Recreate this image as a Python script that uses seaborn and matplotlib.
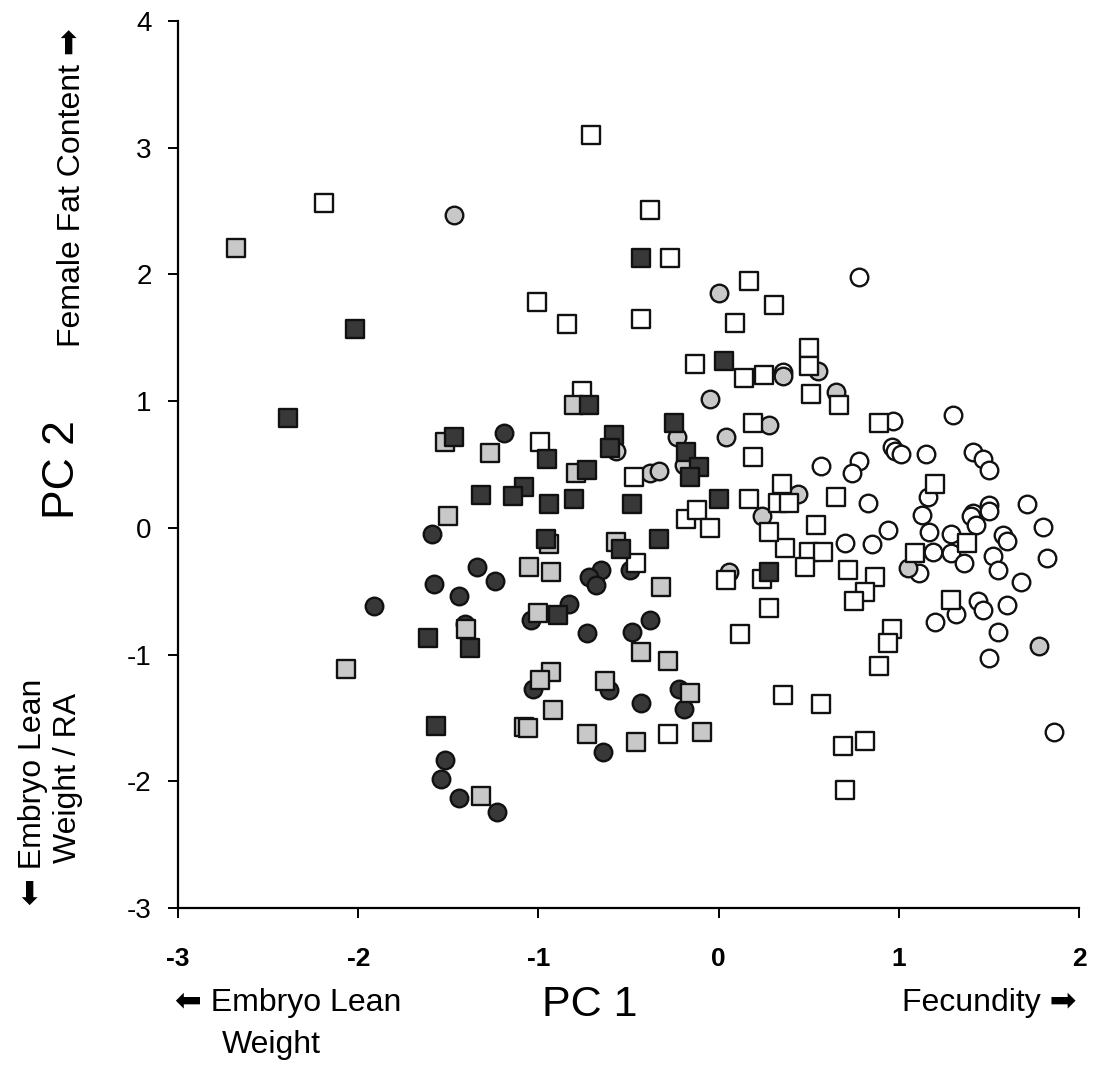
import matplotlib
matplotlib.use("Agg")
import matplotlib.pyplot as plt
import seaborn as sns
import pandas as pd
from matplotlib import font_manager

# ---- data (PC1, PC2) per group ----
white_sq_x = [-0.71, -2.19, -0.38, -0.27, 0.17, -1.01, 0.31, -0.84, -0.43, 0.09, -0.13, 0.14, 0.25, 0.50, 0.50,
              0.51, 0.67, -0.76, 0.89, 0.19, -0.99, 0.19, -0.47, 1.20, 0.35, -0.18, -0.12, -0.05, 0.17, 0.65,
              0.54, 0.37, 0.50, 0.58, 0.48, 0.72, 0.87, 0.81, 0.75, 1.09, 1.38, 1.29, 0.96, 0.94, 0.89,
              0.36, 0.57, 0.81, 0.69, 0.70, -0.46, 0.04, 0.24, 0.28, 0.12, -0.28, 0.33, 0.39, 0.28]
white_sq_y = [3.10, 2.56, 2.51, 2.13, 1.95, 1.78, 1.76, 1.61, 1.65, 1.62, 1.29, 1.18, 1.21, 1.42, 1.28,
              1.06, 0.97, 1.08, 0.83, 0.83, 0.68, 0.56, 0.40, 0.35, 0.35, 0.07, 0.14, 0.00, 0.23, 0.24,
              0.02, -0.16, -0.19, -0.19, -0.31, -0.33, -0.39, -0.51, -0.58, -0.20, -0.12, -0.57, -0.80, -0.91, -1.09,
              -1.32, -1.39, -1.68, -1.72, -2.07, -0.28, -0.41, -0.40, -0.63, -0.84, -1.63, 0.20, 0.20, -0.03]

light_sq_x = [-2.68, -0.80, -1.52, -1.27, -0.79, -1.50, -0.94, -0.57, -1.05, -0.93, -0.32, -1.00, -1.40, -2.07,
              -0.43, -0.28, -0.93, -0.99, -0.63, -0.16, -0.92, -1.08, -1.06, -0.73, -0.46, -0.09, -1.32]
light_sq_y = [2.21, 0.97, 0.68, 0.59, 0.43, 0.09, -0.13, -0.11, -0.31, -0.35, -0.47, -0.67, -0.80, -1.11,
              -0.98, -1.05, -1.14, -1.20, -1.21, -1.30, -1.44, -1.57, -1.58, -1.63, -1.69, -1.61, -2.12]

dark_sq_x = [-0.43, -2.02, -2.39, 0.03, -1.47, -0.72, -0.25, -0.95, -0.58, -0.60, -0.18, -0.11, -0.16, -0.73,
             -1.08, -1.14, -1.32, -0.94, -0.80, -0.48, 0.00, -0.96, -0.54, -0.33, 0.28, -0.89, -1.61, -1.38, -1.57]
dark_sq_y = [2.13, 1.57, 0.87, 1.32, 0.72, 0.97, 0.83, 0.54, 0.73, 0.63, 0.60, 0.48, 0.40, 0.46,
             0.32, 0.25, 0.26, 0.19, 0.23, 0.19, 0.23, -0.09, -0.17, -0.09, -0.35, -0.69, -0.87, -0.95, -1.56]

dark_ci_x = [-1.19, -1.59, -1.34, -1.24, -1.58, -1.44, -1.91, -1.41, -0.49, -0.65, -0.72, -0.68, -0.83, -1.04,
             -0.73, -0.48, -0.38, -1.03, -0.61, -0.43, -0.22, -0.19, -0.64, -1.52, -1.54, -1.44, -1.23]
dark_ci_y = [0.75, -0.05, -0.31, -0.42, -0.44, -0.54, -0.62, -0.76, -0.33, -0.33, -0.39, -0.45, -0.60, -0.73,
             -0.83, -0.82, -0.73, -1.27, -1.28, -1.38, -1.27, -1.43, -1.77, -1.83, -1.98, -2.13, -2.24]

light_ci_x = [-1.47, 0.00, -0.05, -0.23, 0.04, 0.28, -0.57, -0.19, -0.38, -0.33, 0.24, 0.06, 0.36, 0.55, 0.65,
              0.44, 1.05, 1.78]
light_ci_y = [2.47, 1.85, 1.02, 0.72, 0.72, 0.81, 0.61, 0.50, 0.43, 0.45, 0.09, -0.35, 1.20, 1.24, 1.07,
              0.27, -0.32, -0.93]

white_ci_x = [0.78, 0.36, 0.97, 1.30, 0.96, 0.98, 1.01, 1.15, 1.41, 1.47, 1.50, 0.57, 0.78, 0.74, 0.83, 1.16,
              1.71, 1.13, 1.41, 1.40, 1.43, 1.50, 1.50, 1.17, 1.29, 0.94, 1.80, 1.58, 1.60, 0.70, 0.85, 1.19,
              1.29, 1.52, 1.82, 1.36, 1.55, 1.11, 1.68, 1.44, 1.47, 1.60, 1.32, 1.20, 1.55, 1.50, 1.86]
white_ci_y = [1.98, 1.23, 0.84, 0.89, 0.64, 0.61, 0.58, 0.58, 0.60, 0.54, 0.46, 0.49, 0.53, 0.43, 0.20, 0.24,
              0.19, 0.10, 0.12, 0.09, 0.02, 0.18, 0.13, -0.03, -0.05, -0.02, 0.01, -0.06, -0.10, -0.12, -0.13, -0.19,
              -0.20, -0.22, -0.24, -0.28, -0.33, -0.36, -0.43, -0.58, -0.65, -0.61, -0.68, -0.74, -0.82, -1.03, -1.61]

x_ticks = [-3, -2, -1, 0, 1, 2]
y_ticks = [-3, -2, -1, 0, 1, 2, 3, 4]

# draw order: circles first, then squares
groups = [
    ("white_ci", white_ci_x, white_ci_y, "o", "#ffffff"),
    ("light_ci", light_ci_x, light_ci_y, "o", "#c8c8c8"),
    ("dark_ci", dark_ci_x, dark_ci_y, "o", "#383838"),
    ("white_sq", white_sq_x, white_sq_y, "s", "#ffffff"),
    ("light_sq", light_sq_x, light_sq_y, "s", "#c8c8c8"),
    ("dark_sq", dark_sq_x, dark_sq_y, "s", "#383838"),
]

sns.set_theme(style="white")
plt.rcParams["font.family"] = ["Liberation Sans", "DejaVu Sans"]

names = {f.name for f in font_manager.fontManager.ttflist}
narrow = "Liberation Sans Narrow" if "Liberation Sans Narrow" in names else "Liberation Sans"

W, H = 1094, 1068
fig = plt.figure(figsize=(W / 100, H / 100), dpi=100)
ax = fig.add_axes([178 / W, 1 - 908 / H, (1079 - 178) / W, (908 - 21) / H])

for name, xs, ys, mk, col in groups:
    df = pd.DataFrame({"PC1": xs, "PC2": ys})
    sns.scatterplot(data=df, x="PC1", y="PC2", ax=ax, marker=mk, color=col,
                    s=160 if mk == "o" else 150, edgecolor="#111111", linewidth=1.7, zorder=3)

ax.set_xlim(-3, 2)
ax.set_ylim(-3, 4)
ax.set_xlabel("")
ax.set_ylabel("")
for s in ["top", "right"]:
    ax.spines[s].set_visible(False)
for s in ["left", "bottom"]:
    ax.spines[s].set_color("black")
    ax.spines[s].set_linewidth(1.6)
ax.tick_params(axis="both", which="major", direction="out", length=7, width=1.4, color="black",
               bottom=True, left=True, labelcolor="black")
ax.tick_params(axis="x", pad=21)
ax.tick_params(axis="y", pad=12)
ax.set_xticks(x_ticks)
ax.set_yticks(y_ticks)
ax.set_xticklabels([str(t) for t in x_ticks], fontsize=19, fontweight="bold", family=narrow, color="black")
ax.set_yticklabels([str(t) for t in y_ticks], fontsize=20, color="black")
for c in ax.collections:
    c.set_clip_on(False)

fam = ["Liberation Sans", "DejaVu Sans"]
def ft(x, y, s, **kw):
    fig.text(x / W, 1 - y / H, s, family=fam, color="black", **kw)

# left side labels
ft(72, 188, "Female Fat Content \u27a1", fontsize=23, rotation=90, ha="center", va="center")
ft(62, 470, "PC 2", fontsize=32, rotation=90, ha="center", va="center")
ft(33, 905, "\u2b05 Embryo Lean", fontsize=23, rotation=90, ha="center", va="bottom")
ft(68, 863, "Weight / RA", fontsize=23, rotation=90, ha="center", va="bottom")

# bottom labels
ft(175, 1003, "\u2b05 Embryo Lean", fontsize=23, ha="left", va="center")
ft(222, 1045, "Weight", fontsize=23, ha="left", va="center")
ft(590, 1005, "PC 1", fontsize=31, ha="center", va="center")
ft(1077, 1003, "Fecundity \u27a1", fontsize=23, ha="right", va="center")

fig.savefig("out.png", dpi=100, facecolor="white")
